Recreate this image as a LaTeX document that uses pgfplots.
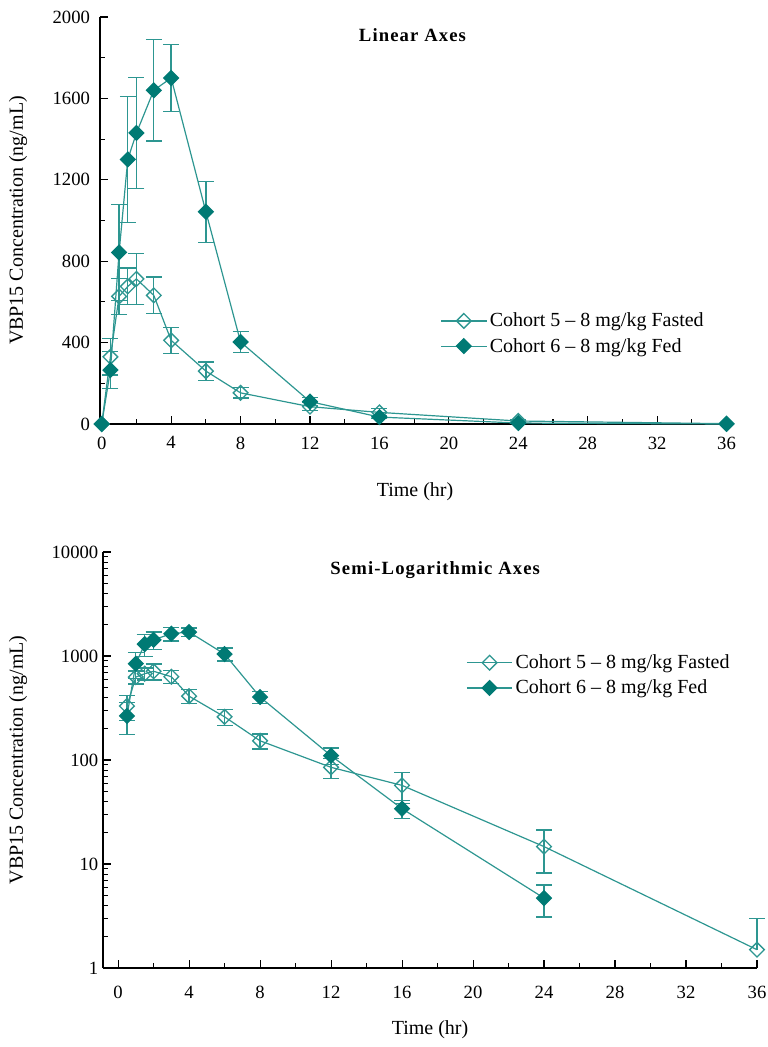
\documentclass[border=0pt]{standalone}
\usepackage{fontspec}
\setmainfont{Liberation Serif}
\newfontfamily\titlefont[LetterSpace=6]{Liberation Serif}
\usepackage{pgfplots}
\usepackage{pgfplotstable}
\pgfplotsset{compat=1.18}
\definecolor{markteal}{RGB}{0,122,116}
\definecolor{lineteal}{RGB}{45,150,145}

% mean concentrations (ng/mL)
\pgfplotstableread{
t y
0 0
0.5 330
1 627
1.5 676
2 713
3 632
4 411
6 260
8 153
12 85
16 57
24 14.7
36 1.5
}\fasted
\pgfplotstableread{
t y
0 0
0.5 265
1 843
1.5 1300
2 1430
3 1640
4 1700
6 1043
8 403
12 110
16 34
24 4.7
36 0
}\fed
% error bars (SD)
\pgfplotstableread{
t y e
0.5 330 90
1 627 88
1.5 676 90
2 713 125
3 632 90
4 411 63
6 260 45
8 153 25
12 85 19
16 57 19
24 14.7 6.5
}\fastederr
\pgfplotstableread{
t y e
36 1.5 1.5
}\fastederrlast
\pgfplotstableread{
t y e
0.5 265 90
1 843 237
1.5 1300 310
2 1430 273
3 1640 250
4 1700 165
6 1043 150
8 403 52
12 110 20
16 34 6.5
24 4.7 1.6
}\federr

\begin{document}
\begin{tikzpicture}
\path[use as bounding box] (0,0) rectangle (576pt,785.25pt);
\pgfplotsset{
  common/.style={
    scale only axis,
    anchor=south west,
    axis lines*=left,
    axis line style={black, line width=0.8pt},
    tick align=inside,
    major tick length=6pt,
    minor tick length=4pt,
    tick style={black, line width=0.8pt},
    clip=false,
    ticklabel style={font=\fontsize{14}{16}\selectfont},
    /pgf/number format/assume math mode=true,
    /pgf/number format/1000 sep={},
    legend style={draw=none, fill=none, font=\fontsize{15}{18}\selectfont, anchor=north west, row sep=3pt, inner sep=0pt},
    legend cell align=left,
    ylabel={VBP15 Concentration (ng/mL)},
    xlabel={Time (hr)},
    xtick={0,4,...,36},
    minor x tick num=1,
  },
  fastedstyle/.style={color=lineteal, line width=0.9pt, mark=square, mark size=3.9pt,
    mark options={rotate=45, draw=lineteal, solid, line width=1pt},
    legend image code/.code={\draw[mark repeat=2,mark phase=2,##1] plot coordinates {(0cm,0cm) (0.6cm,0cm) (1.2cm,0cm)};}},
  fedstyle/.style={color=lineteal, line width=0.9pt, mark=square*, mark size=3.9pt,
    mark options={rotate=45, draw=markteal, fill=markteal, solid},
    legend image code/.code={\draw[mark repeat=2,mark phase=2,##1] plot coordinates {(0cm,0cm) (0.6cm,0cm) (1.2cm,0cm)};}},
  errstyle/.style={forget plot, draw=none, mark=none,
    error bars/y explicit,
    error bars/error bar style={draw=lineteal, line width=1pt},
    error bars/error mark options={draw=lineteal, line width=1pt, mark size=6pt, rotate=90}},
}
% ---------- Linear axes ----------
\begin{axis}[common,
  at={(75pt,467.25pt)},
  width=472.5pt, height=305.25pt,
  xmin=-0.1, xmax=36.2, ymin=0, ymax=2000,
  ytick={0,400,...,2000}, minor y tick num=1,
  yticklabel style={xshift=-4pt},
  xticklabel style={yshift=-6pt},
  every axis y label/.style={at={(rel axis cs:0,0.5)}, xshift=-61.5pt, rotate=90, anchor=center, font=\fontsize{15}{18}\selectfont},
  every axis x label/.style={at={(rel axis cs:0.5,0)}, yshift=-51pt, anchor=center, font=\fontsize{15}{18}\selectfont},
  legend style={at={(rel axis cs:0.54,0.28)}},
]
\addplot[errstyle, error bars/y dir=both] table[x=t, y=y, y error=e] {\fastederr};
\addplot[fastedstyle] table[x=t, y=y] {\fasted};
\addlegendentry{Cohort 5 -- 8 mg/kg Fasted}
\addplot[errstyle, error bars/y dir=both] table[x=t, y=y, y error=e] {\federr};
\addplot[fedstyle] table[x=t, y=y] {\fed};
\addlegendentry{Cohort 6 -- 8 mg/kg Fed}
\node[font=\titlefont\bfseries\fontsize{14}{16}\selectfont] at (rel axis cs:0.496,0.956) {Linear Axes};
\end{axis}
% ---------- Semi-log axes ----------
\begin{axis}[common,
  at={(77.25pt,59.25pt)},
  width=490.5pt, height=312pt,
  ymode=log,
  xmin=-0.85, xmax=36, ymin=1, ymax=10000,
  ytick={1,10,100,1000,10000},
  yticklabels={1,10,100,1000,10000},
  minor ytick={2,3,4,5,6,7,8,9,20,30,40,50,60,70,80,90,200,300,400,500,600,700,800,900,2000,3000,4000,5000,6000,7000,8000,9000},
  xticklabel style={yshift=-10pt},
  every axis y label/.style={at={(rel axis cs:0,0.5)}, xshift=-63.75pt, rotate=90, anchor=center, font=\fontsize{15}{18}\selectfont},
  every axis x label/.style={at={(rel axis cs:0.5,0)}, yshift=-46.5pt, anchor=center, font=\fontsize{15}{18}\selectfont},
  legend style={at={(rel axis cs:0.555,0.76)}},
]
\addplot[errstyle, error bars/y dir=both] table[x=t, y=y, y error=e] {\fastederr};
\addplot[errstyle, error bars/y dir=plus] table[x=t, y=y, y error=e] {\fastederrlast};
\addplot[fastedstyle] table[x=t, y=y] {
t y
0.5 330
1 627
1.5 676
2 713
3 632
4 411
6 260
8 153
12 85
16 57
24 14.7
36 1.5
};
\addlegendentry{Cohort 5 -- 8 mg/kg Fasted}
\addplot[errstyle, error bars/y dir=both] table[x=t, y=y, y error=e] {\federr};
\addplot[fedstyle] table[x=t, y=y] {
t y
0.5 265
1 843
1.5 1300
2 1430
3 1640
4 1700
6 1043
8 403
12 110
16 34
24 4.7
};
\addlegendentry{Cohort 6 -- 8 mg/kg Fed}
\node[font=\titlefont\bfseries\fontsize{14}{16}\selectfont] at (rel axis cs:0.508,0.957) {Semi-Logarithmic Axes};
\end{axis}
\end{tikzpicture}
\end{document}
